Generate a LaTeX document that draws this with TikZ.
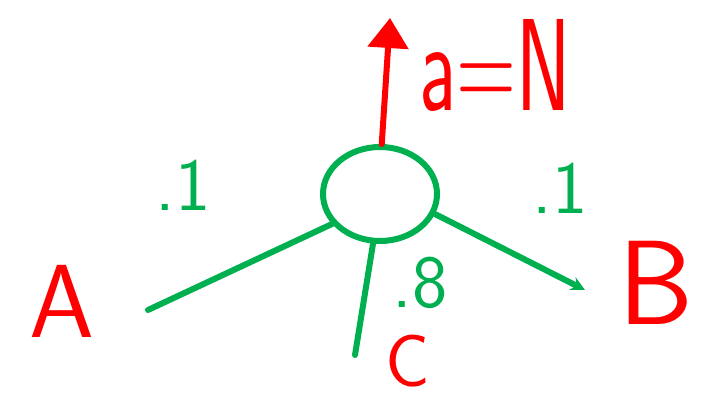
\documentclass[tikz,border=0pt]{standalone}
\usepackage{graphicx}
\usetikzlibrary{arrows.meta, shapes.geometric, positioning}
\definecolor{penGreen}{RGB}{0,176,80}
\definecolor{penRed}{RGB}{255,0,0}

\begin{document}
\begin{tikzpicture}[x=1pt, y=-1pt,
        hub/.style={draw=penGreen, ellipse, line width=6pt, minimum width=114pt, minimum height=94pt},
        endpt/.style={text=penRed, inner sep=0pt, font=\sffamily\fontsize{#1}{#1}\selectfont},
        prob/.style={text=penGreen, inner sep=0pt, font=\sffamily\fontsize{75}{75}\selectfont},
        wire/.style={draw=penGreen, line width=6pt, line cap=round},
        up/.style={draw=penRed, line width=6pt, line cap=round, -{Triangle[length=30pt, width=40pt]}}
      ]
        \useasboundingbox (0,0) rectangle (707,403);
        \node[hub] (hub) at (380,194) {};
        \node[endpt=104] (A) at (62,301) {A};
        \node[endpt=120] (B) at (656,283) {B};
        \node[endpt=74]  (C) at (408,361) {C};
        \coordinate (aEnd) at (148,310);
        \coordinate (bEnd) at (585,290);
        \coordinate (cEnd) at (355,355);
        \coordinate (top)  at (390,18);
        \draw[wire] (aEnd) -- (hub.212);
        \draw[wire, -{Stealth[length=14pt, width=14pt]}] (hub.340) -- (bEnd);
        \draw[wire] (hub.262) -- (cEnd);
        \draw[up] (hub.88) -- (top);
        \node[endpt=82] (rate) at (495,66) {\scalebox{1}[1.6]{a=N}};
        \node[prob] (pA) at (183,185) {.1};
        \node[prob] (pB) at (560,188) {.1};
        \node[prob] (pC) at (420,283) {.8};
      \end{tikzpicture}
\end{document}
